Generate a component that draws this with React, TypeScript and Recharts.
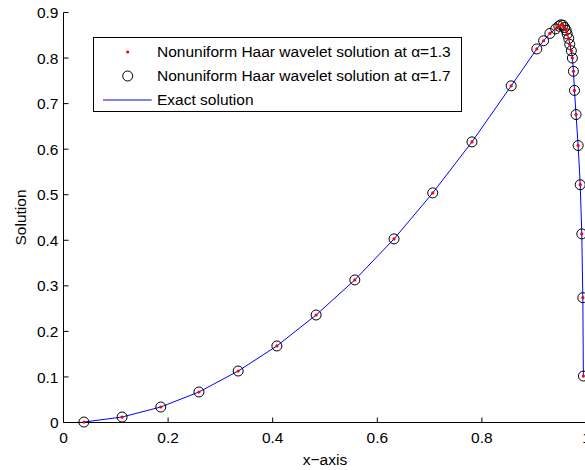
import { ComposedChart, Line, XAxis, YAxis, Legend } from 'recharts'

// x positions of the nonuniform collocation points
const xPoints = [
  0.039, 0.112, 0.186, 0.259, 0.334, 0.408, 0.483, 0.557, 0.632, 0.706, 0.781, 0.856,
  0.905, 0.918, 0.930, 0.941, 0.947, 0.951, 0.955, 0.958, 0.961, 0.963, 0.966, 0.968,
  0.971, 0.973, 0.975, 0.977, 0.980, 0.984, 0.988, 0.991, 0.993, 0.994,
]
// the two wavelet solutions and the exact one coincide at this scale
const haar13 = [
  0.001, 0.012, 0.034, 0.067, 0.113, 0.168, 0.236, 0.313, 0.403, 0.504, 0.616, 0.739,
  0.820, 0.838, 0.854, 0.864, 0.870, 0.873, 0.872, 0.867, 0.861, 0.853, 0.843, 0.830,
  0.816, 0.800, 0.771, 0.729, 0.676, 0.608, 0.522, 0.414, 0.274, 0.102,
]
const haar17 = [
  0.001, 0.012, 0.034, 0.067, 0.113, 0.168, 0.236, 0.313, 0.403, 0.504, 0.616, 0.739,
  0.820, 0.838, 0.854, 0.864, 0.870, 0.873, 0.872, 0.867, 0.861, 0.853, 0.843, 0.830,
  0.816, 0.800, 0.771, 0.729, 0.676, 0.608, 0.522, 0.414, 0.274, 0.102,
]
const exact = [
  0.001, 0.012, 0.034, 0.067, 0.113, 0.168, 0.236, 0.313, 0.403, 0.504, 0.616, 0.739,
  0.820, 0.838, 0.854, 0.864, 0.870, 0.873, 0.872, 0.867, 0.861, 0.853, 0.843, 0.830,
  0.816, 0.800, 0.771, 0.729, 0.676, 0.608, 0.522, 0.414, 0.274, 0.102,
]

const xTicks = [0, 0.2, 0.4, 0.6, 0.8, 1]
const yTicks = [0, 0.1, 0.2, 0.3, 0.4, 0.5, 0.6, 0.7, 0.8, 0.9]

const seriesNames = [
  'Nonuniform Haar wavelet solution at α=1.3',
  'Nonuniform Haar wavelet solution at α=1.7',
  'Exact solution',
]

const data = xPoints.map((x, i) => ({ x, a13: haar13[i], a17: haar17[i], exact: exact[i] }))

const FONT = '"Liberation Sans", Arial, Helvetica, sans-serif'
const FS = 15.5
const TICK = 5

const BottomTick = (p: any) => (
  <g>
    <line x1={p.x} y1={p.y} x2={p.x} y2={p.y - TICK} stroke="#000" />
    <text x={p.x} y={p.y + 20} textAnchor="middle" fontSize={FS} fontFamily={FONT} fill="#000">
      {String(p.payload.value)}
    </text>
  </g>
)
const LeftTick = (p: any) => (
  <g>
    <line x1={p.x} y1={p.y} x2={p.x + TICK} y2={p.y} stroke="#000" />
    <text x={p.x - 5} y={p.y} dy="0.36em" textAnchor="end" fontSize={FS} fontFamily={FONT} fill="#000">
      {String(p.payload.value)}
    </text>
  </g>
)
const TopTick = (p: any) => <line x1={p.x} y1={p.y} x2={p.x} y2={p.y + TICK} stroke="#000" />
const RightTick = (p: any) => <line x1={p.x} y1={p.y} x2={p.x - TICK} y2={p.y} stroke="#000" />

function LegendBox() {
  const row = { height: 24, display: 'flex', alignItems: 'center' } as const
  return (
    <div style={{ border: '1px solid #000', background: '#fff', width: 369, height: 75, boxSizing: 'border-box', paddingTop: 2, fontFamily: FONT, fontSize: FS, color: '#000' }}>
      <div style={row}>
        <svg width={63} height={24}><circle cx={33.7} cy={12} r={1.6} fill="#ff0000" /></svg>
        <span>{seriesNames[0]}</span>
      </div>
      <div style={row}>
        <svg width={63} height={24}><circle cx={33.7} cy={12} r={5} fill="none" stroke="#000" /></svg>
        <span>{seriesNames[1]}</span>
      </div>
      <div style={row}>
        <svg width={63} height={24}><line x1={9} y1={12} x2={57.7} y2={12} stroke="#0000ff" /></svg>
        <span>{seriesNames[2]}</span>
      </div>
    </div>
  )
}

export default function App() {
  return (
    <div style={{ position: 'fixed', left: 0, top: 0, width: 585, height: 470, overflow: 'hidden', background: '#fff' }}>
      <ComposedChart width={600} height={470} data={data} margin={{ top: 12.5, right: 13.5, bottom: 0, left: 0 }}>
        <XAxis xAxisId="b" dataKey="x" type="number" domain={[0, 1]} ticks={xTicks} height={47.5}
          tickSize={0} tickMargin={0} tickLine={false} axisLine={{ stroke: '#000' }} tick={BottomTick}
          interval={0}
          label={{ value: 'x−axis', position: 'insideBottom', offset: 5, fontSize: FS, fontFamily: FONT, fill: '#000' }} />
        <XAxis xAxisId="t" dataKey="x" type="number" orientation="top" domain={[0, 1]} ticks={xTicks} height={0}
          tickSize={0} tickMargin={0} tickLine={false} axisLine={{ stroke: '#000' }} tick={TopTick} interval={0} />
        <YAxis yAxisId="l" type="number" domain={[0, 0.9]} ticks={yTicks} width={63.5}
          tickSize={0} tickMargin={0} tickLine={false} axisLine={{ stroke: '#000' }} tick={LeftTick} interval={0}
          label={{ value: 'Solution', angle: -90, position: 'insideLeft', offset: 20, fontSize: FS, fontFamily: FONT, fill: '#000', style: { textAnchor: 'middle' } }} />
        <YAxis yAxisId="r" type="number" orientation="right" domain={[0, 0.9]} ticks={yTicks} width={0}
          tickSize={0} tickMargin={0} tickLine={false} axisLine={{ stroke: '#000' }} tick={RightTick} interval={0} />
        <Legend layout="vertical" align="center" verticalAlign="middle" content={LegendBox}
          wrapperStyle={{ position: 'absolute', left: 93, top: 37, width: 369, height: 75 }} />
        <Line xAxisId="b" yAxisId="l" dataKey="exact" type="linear" stroke="#0000ff" strokeWidth={1}
          dot={false} activeDot={false} isAnimationActive={false} />
        <Line xAxisId="b" yAxisId="l" dataKey="a17" stroke="none" legendType="none"
          dot={{ r: 5, fill: 'none', stroke: '#000', strokeWidth: 1 }} activeDot={false} isAnimationActive={false} />
        <Line xAxisId="b" yAxisId="l" dataKey="a13" stroke="none"
          dot={{ r: 1.6, fill: '#ff0000', stroke: 'none' }} activeDot={false} isAnimationActive={false} />
      </ComposedChart>
    </div>
  )
}
